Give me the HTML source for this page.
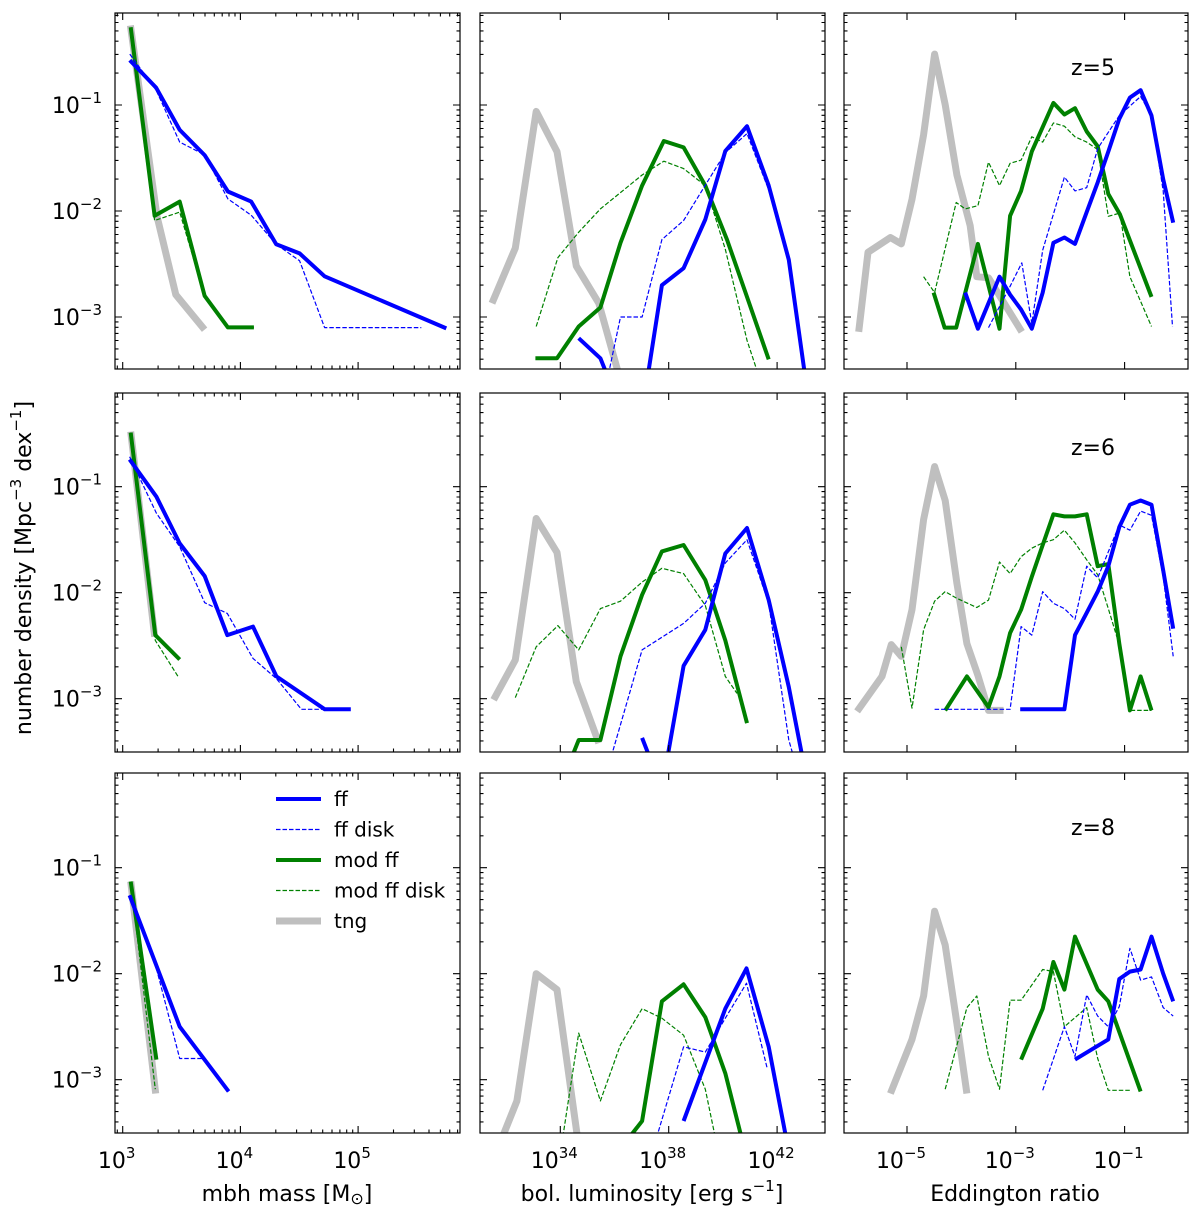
<!DOCTYPE html>
<html><head><meta charset="utf-8">
<style>
body{margin:0;background:#fff;}
svg{display:block;font-family:"DejaVu Sans","Liberation Sans",sans-serif;}
</style></head>
<body>
<svg id="fig" width="1200" height="1215" viewBox="0 0 1200 1215" xmlns="http://www.w3.org/2000/svg"></svg>
<script>
// ---- data: [log10(x), log10(number density)] ----
// z=5 mass
const z5_mass_ff = [[3.06,-0.578],[3.285,-0.838],[3.484,-1.235],[3.696,-1.473],[3.894,-1.816],[4.092,-1.911],[4.304,-2.314],[4.503,-2.4],[4.715,-2.616],[5.749,-3.108]];
const z5_mass_ffdisk = [[3.06,-0.52],[3.285,-0.86],[3.484,-1.35],[3.696,-1.47],[3.894,-1.886],[4.092,-2.04],[4.304,-2.314],[4.503,-2.47],[4.715,-3.10],[5.537,-3.10]];
const z5_mass_mod = [[3.068,-0.267],[3.271,-2.045],[3.484,-1.911],[3.696,-2.8],[3.894,-3.098],[4.115,-3.098]];
const z5_mass_moddisk = [[3.068,-0.28],[3.271,-2.09],[3.484,-2.01],[3.696,-2.8],[3.894,-3.098],[4.115,-3.098]];
const z5_mass_tng = [[3.065,-0.25],[3.291,-2.05],[3.451,-2.79],[3.696,-3.12]];
// z=5 luminosity
const z5_lum_ff = [[34.68,-3.20],[35.48,-3.39],[36.28,-3.9],[37.02,-3.9],[37.75,-2.70],[38.55,-2.54],[39.35,-2.08],[40.09,-1.435],[40.89,-1.20],[41.69,-1.76],[42.43,-2.46],[43.22,-3.9]];
const z5_lum_ffdisk = [[35.48,-3.9],[36.22,-3.0],[37.02,-3.0],[37.75,-2.27],[38.55,-2.09],[40.09,-1.45],[40.89,-1.27],[41.69,-1.80],[42.43,-2.49],[43.2,-3.9]];
const z5_lum_mod = [[33.08,-3.39],[33.88,-3.39],[34.68,-3.09],[35.48,-2.91],[36.22,-2.30],[37.02,-1.76],[37.82,-1.34],[38.55,-1.40],[39.35,-1.76],[40.15,-2.27],[40.89,-2.81],[41.69,-3.40]];
const z5_lum_moddisk = [[33.11,-3.09],[33.91,-2.44],[34.68,-2.2],[35.48,-1.98],[37.02,-1.66],[37.82,-1.53],[38.55,-1.60],[39.35,-1.76],[40.09,-2.36],[40.89,-3.22],[41.38,-3.6]];
const z5_lum_tng = [[31.48,-2.87],[32.34,-2.35],[33.11,-1.06],[33.88,-1.44],[34.59,-2.52],[35.42,-2.87],[36.22,-3.6]];
// z=5 eddington
const z5_edd_ff = [[-3.93,-2.77],[-3.697,-3.11],[-3.502,-2.87],[-3.300,-2.62],[-3.104,-2.79],[-2.902,-2.93],[-2.706,-3.11],[-2.505,-2.77],[-2.309,-2.30],[-2.107,-2.25],[-1.911,-2.31],[-1.697,-2.01],[-1.495,-1.73],[-1.300,-1.44],[-1.098,-1.13],[-0.902,-0.93],[-0.706,-0.86],[-0.505,-1.10],[-0.291,-1.70],[-0.107,-2.11]];
const z5_edd_ffdisk = [[-3.502,-3.10],[-3.104,-2.71],[-2.890,-2.49],[-2.706,-3.06],[-2.505,-2.37],[-2.107,-1.68],[-1.911,-1.81],[-1.697,-1.78],[-1.495,-1.41],[-1.098,-1.10],[-0.706,-0.92],[-0.505,-1.10],[-0.291,-1.81],[-0.119,-3.09]];
const z5_edd_mod = [[-4.511,-2.77],[-4.309,-3.10],[-4.095,-3.10],[-3.697,-2.31],[-3.300,-3.11],[-3.104,-2.045],[-2.902,-1.81],[-2.706,-1.44],[-2.309,-0.98],[-2.107,-1.09],[-1.911,-1.03],[-1.697,-1.25],[-1.495,-1.39],[-1.300,-1.84],[-1.086,-2.03],[-0.505,-2.81]];
const z5_edd_moddisk = [[-4.694,-2.62],[-4.492,-2.77],[-4.095,-1.92],[-3.930,-1.98],[-3.697,-1.95],[-3.502,-1.54],[-3.300,-1.76],[-3.104,-1.55],[-2.902,-1.52],[-2.706,-1.30],[-2.505,-1.35],[-2.309,-1.17],[-2.107,-1.20],[-1.911,-1.30],[-1.697,-1.35],[-1.495,-1.42],[-1.300,-2.05],[-1.086,-2.02],[-0.902,-2.62],[-0.505,-3.09]];
const z5_edd_tng = [[-5.887,-3.14],[-5.716,-2.39],[-5.306,-2.25],[-5.104,-2.31],[-4.908,-1.89],[-4.694,-1.28],[-4.492,-0.52],[-4.297,-0.997],[-4.083,-1.66],[-3.838,-2.14],[-3.716,-2.62],[-3.502,-2.63],[-2.890,-3.14]];
// z=6 mass
const z6_mass_ff = [[3.059,-0.742],[3.286,-1.094],[3.484,-1.535],[3.697,-1.843],[3.889,-2.40],[4.107,-2.32],[4.306,-2.79],[4.717,-3.10],[4.938,-3.10]];
const z6_mass_ffdisk = [[3.059,-0.717],[3.286,-1.25],[3.484,-1.566],[3.697,-2.094],[3.889,-2.195],[4.107,-2.62],[4.306,-2.81],[4.518,-3.10],[4.717,-3.10]];
const z6_mass_mod = [[3.068,-0.49],[3.277,-2.40],[3.484,-2.63]];
const z6_mass_moddisk = [[3.068,-0.49],[3.277,-2.45],[3.470,-2.79]];
const z6_mass_tng = [[3.068,-0.48],[3.272,-2.415]];
// z=6 luminosity
const z6_lum_ff = [[37.02,-3.37],[37.75,-3.85],[38.55,-2.69],[39.35,-2.35],[40.09,-1.63],[40.89,-1.39],[41.69,-2.07],[42.43,-2.89],[43.2,-3.9]];
const z6_lum_ffdisk = [[35.48,-3.9],[37.02,-2.54],[38.55,-2.29],[39.35,-2.10],[40.09,-1.72],[40.89,-1.50],[41.69,-2.10],[42.43,-3.39],[43.0,-3.9]];
const z6_lum_mod = [[33.88,-3.9],[34.68,-3.39],[35.48,-3.39],[36.22,-2.60],[37.02,-2.02],[37.75,-1.61],[38.55,-1.55],[39.35,-1.88],[40.09,-2.45],[40.89,-3.23]];
const z6_lum_moddisk = [[32.34,-2.99],[33.11,-2.51],[33.91,-2.31],[34.68,-2.54],[35.48,-2.15],[36.22,-2.08],[37.02,-1.90],[37.75,-1.77],[38.55,-1.82],[39.35,-2.12],[40.09,-2.79],[40.52,-2.95]];
const z6_lum_tng = [[31.54,-3.01],[32.34,-2.635],[33.11,-1.30],[33.88,-1.62],[34.59,-2.84],[35.42,-3.42]];
// z=6 eddington
const z6_edd_ff = [[-2.920,-3.10],[-2.107,-3.10],[-1.911,-2.40],[-1.697,-2.19],[-1.495,-1.99],[-1.300,-1.75],[-1.098,-1.38],[-0.902,-1.17],[-0.706,-1.13],[-0.505,-1.17],[-0.291,-1.79],[-0.107,-2.34]];
const z6_edd_ffdisk = [[-4.492,-3.10],[-3.104,-3.10],[-2.902,-2.32],[-2.706,-2.40],[-2.505,-1.99],[-2.309,-2.10],[-2.107,-2.15],[-1.911,-2.25],[-1.697,-1.75],[-1.495,-1.86],[-1.098,-1.36],[-0.902,-1.41],[-0.706,-1.23],[-0.505,-1.27],[-0.291,-1.85],[-0.107,-2.60]];
const z6_edd_mod = [[-4.297,-3.11],[-3.899,-2.79],[-3.502,-3.08],[-3.300,-2.79],[-3.104,-2.38],[-2.902,-2.16],[-2.706,-1.85],[-2.505,-1.55],[-2.309,-1.26],[-2.107,-1.28],[-1.911,-1.28],[-1.697,-1.26],[-1.495,-1.75],[-1.300,-1.73],[-1.098,-2.48],[-0.902,-3.11],[-0.706,-2.79],[-0.505,-3.11]];
const z6_edd_moddisk = [[-5.104,-2.51],[-4.908,-3.09],[-4.694,-2.35],[-4.492,-2.08],[-4.297,-1.99],[-4.095,-2.05],[-3.716,-2.14],[-3.502,-2.07],[-3.300,-1.71],[-3.104,-1.82],[-2.902,-1.66],[-2.706,-1.58],[-2.505,-1.53],[-2.309,-1.50],[-2.107,-1.41],[-1.911,-1.53],[-1.697,-1.69],[-1.495,-1.83],[-1.300,-2.15],[-1.086,-2.51],[-0.902,-3.11],[-0.505,-3.11]];
const z6_edd_tng = [[-5.917,-3.12],[-5.459,-2.79],[-5.288,-2.49],[-5.104,-2.60],[-4.908,-2.16],[-4.694,-1.31],[-4.492,-0.81],[-4.297,-1.13],[-4.083,-1.91],[-3.899,-2.48],[-3.697,-2.78],[-3.502,-3.11],[-3.226,-3.11]];
// z=8 mass
const z8_mass_ff = [[3.059,-1.26],[3.484,-2.50],[3.900,-3.11]];
const z8_mass_ffdisk = [[3.059,-1.26],[3.286,-1.95],[3.484,-2.80],[3.697,-2.80],[3.900,-3.11]];
const z8_mass_mod = [[3.068,-1.13],[3.286,-2.81]];
const z8_mass_moddisk = [[3.068,-1.13],[3.277,-3.09]];
const z8_mass_tng = [[3.068,-1.13],[3.28,-3.13]];
// z=8 luminosity
const z8_lum_ff = [[38.55,-3.39],[40.09,-2.33],[40.87,-1.95],[41.69,-2.69],[42.43,-3.68]];
const z8_lum_ffdisk = [[37.14,-3.9],[38.55,-2.69],[39.35,-2.74],[40.09,-2.42],[40.87,-2.09],[41.63,-2.89]];
const z8_lum_mod = [[36.22,-3.65],[37.02,-3.39],[37.75,-2.26],[38.55,-2.10],[39.35,-2.41],[40.09,-2.94],[40.89,-3.75]];
const z8_lum_moddisk = [[33.88,-3.9],[34.68,-2.56],[35.48,-3.20],[36.22,-2.67],[37.02,-2.33],[37.75,-2.42],[38.55,-2.58],[39.35,-3.09],[40.09,-4.0]];
const z8_lum_tng = [[31.54,-3.75],[32.40,-3.20],[33.11,-2.0],[33.88,-2.15],[34.62,-3.52],[34.7,-3.7]];
// z=8 eddington
const z8_edd_ff = [[-1.911,-2.81],[-1.300,-2.62],[-1.098,-2.05],[-0.902,-1.98],[-0.706,-1.96],[-0.505,-1.65],[-0.291,-2.00],[-0.107,-2.26]];
const z8_edd_ffdisk = [[-2.505,-3.10],[-2.107,-2.50],[-1.911,-2.78],[-1.697,-2.20],[-1.495,-2.40],[-1.300,-2.50],[-1.098,-2.31],[-0.902,-1.76],[-0.706,-2.06],[-0.505,-2.03],[-0.291,-2.32],[-0.107,-2.40]];
const z8_edd_mod = [[-2.902,-2.81],[-2.505,-2.33],[-2.309,-1.89],[-2.107,-2.15],[-1.911,-1.65],[-1.495,-2.15],[-1.300,-2.26],[-0.706,-3.11]];
const z8_edd_moddisk = [[-4.297,-3.09],[-3.899,-2.32],[-3.716,-2.21],[-3.502,-2.78],[-3.300,-3.09],[-3.104,-2.25],[-2.902,-2.25],[-2.505,-1.96],[-2.309,-1.98],[-2.107,-2.50],[-1.697,-2.32],[-1.495,-2.80],[-1.300,-3.10],[-0.902,-3.10]];
const z8_edd_tng = [[-5.306,-3.13],[-4.908,-2.62],[-4.694,-2.21],[-4.492,-1.41],[-4.297,-1.73],[-4.083,-2.47],[-3.899,-3.13]];

const redshiftLabels = ["z=5","z=6","z=8"];
const massTicks = [3,4,5];
const lumTicks = [34,38,42];
const eddTicks = [-5,-3,-1];
const yTicks = [-3,-2,-1];
const legendLabels = ["ff","ff disk","mod ff","mod ff disk","tng"];

// ---- layout ----
const NS="http://www.w3.org/2000/svg";
const svg=document.getElementById('fig');
const cols=[{l:115,r:460,x0:122.7,ref:3,ppd:117.7,minor:true,ticks:massTicks},
            {l:480,r:825,x0:560.3,ref:34,ppd:27.1,minor:false,ticks:lumTicks},
            {l:844,r:1188,x0:907,ref:-5,ppd:54.4,minor:false,ticks:eddTicks}];
const rows=[{t:13,b:369,y1:105},{t:393,b:752,y1:486.7},{t:773,b:1133,y1:867.7}];
const YPPD=106;
const panelData=[
 [[z5_mass_tng,z5_mass_mod,z5_mass_moddisk,z5_mass_ff,z5_mass_ffdisk],[z5_lum_tng,z5_lum_mod,z5_lum_moddisk,z5_lum_ff,z5_lum_ffdisk],[z5_edd_tng,z5_edd_mod,z5_edd_moddisk,z5_edd_ff,z5_edd_ffdisk]],
 [[z6_mass_tng,z6_mass_mod,z6_mass_moddisk,z6_mass_ff,z6_mass_ffdisk],[z6_lum_tng,z6_lum_mod,z6_lum_moddisk,z6_lum_ff,z6_lum_ffdisk],[z6_edd_tng,z6_edd_mod,z6_edd_moddisk,z6_edd_ff,z6_edd_ffdisk]],
 [[z8_mass_tng,z8_mass_mod,z8_mass_moddisk,z8_mass_ff,z8_mass_ffdisk],[z8_lum_tng,z8_lum_mod,z8_lum_moddisk,z8_lum_ff,z8_lum_ffdisk],[z8_edd_tng,z8_edd_mod,z8_edd_moddisk,z8_edd_ff,z8_edd_ffdisk]]];
const styles=[
 {name:'tng',c:'#bfbfbf',w:7,d:''},
 {name:'mod-ff',c:'#008000',w:4,d:''},
 {name:'mod-ff-disk',c:'#008000',w:1.2,d:'4.5,2'},
 {name:'ff',c:'#0000ff',w:4,d:''},
 {name:'ff-disk',c:'#0000ff',w:1.2,d:'4.5,2'}];
const colNames=['mass','luminosity','eddington'];

function el(tag,attrs,parent){const e=document.createElementNS(NS,tag);for(const k in attrs)e.setAttribute(k,attrs[k]);(parent||svg).appendChild(e);return e;}
function xs(c,L){return c.x0+(L-c.ref)*c.ppd;}
function ys(r,L){return r.y1-(L+1)*YPPD;}

const defs=el('defs',{});
rows.forEach((r,ri)=>cols.forEach((c,ci)=>{
  const cp=el('clipPath',{id:'cp'+ri+ci},defs);
  el('rect',{x:c.l,y:r.t,width:c.r-c.l,height:r.b-r.t},cp);
}));

rows.forEach((r,ri)=>{
  cols.forEach((c,ci)=>{
    const g=el('g',{});
    
    
    const lg=el('g',{'clip-path':'url(#cp'+ri+ci+')'},g);
    panelData[ri][ci].forEach((series,si)=>{
      const s=styles[si];
      const pts=series.map(p=>xs(c,p[0]).toFixed(1)+','+ys(r,p[1]).toFixed(1)).join(' ');
      const pl=el('polyline',{points:pts,fill:'none',stroke:s.c,'stroke-width':s.w,'stroke-linejoin':'round','stroke-linecap':'butt'},lg);
      if(s.d)pl.setAttribute('stroke-dasharray',s.d);
      
      
    });
    const fr=el('rect',{x:c.l,y:r.t,width:c.r-c.l,height:r.b-r.t,fill:'none',stroke:'#000','stroke-width':1.2},g);
    
    
    let yt='';
    for(let d=-4;d<=0;d++){
      for(let m=1;m<=9;m++){
        const L=d+Math.log10(m);const y=ys(r,L);
        if(y<r.t-0.5||y>r.b+0.5)continue;
        const len=m===1?7:3.5;
        yt+=`M${c.l},${y.toFixed(1)}h${len}M${c.r},${y.toFixed(1)}h${-len}`;
      }
    }
    for(let d=-8;d<=45;d++){
      const sub=c.minor?[1,2,3,4,5,6,7,8,9]:[1];
      sub.forEach(m=>{
        const L=d+Math.log10(m);
        if(!c.minor && !c.ticks.includes(d))return;
        const x=xs(c,L);
        if(x<c.l-0.5||x>c.r+0.5)return;
        const len=m===1?7:3.5;
        yt+=`M${x.toFixed(1)},${r.b}v${-len}M${x.toFixed(1)},${r.t}v${len}`;
      });
    }
    const tk=el('path',{d:yt,stroke:'#000','stroke-width':1.1,fill:'none'},g);
    
    
    if(ci===0){
      yTicks.forEach(t=>{
        const tx=el('text',{x:c.l-13,y:ys(r,t)+8,'text-anchor':'end','font-size':22},g);
        tx.innerHTML=`10<tspan dy="-10" font-size="15">${'\u2212'+(-t)}</tspan>`;
        
        
      });
    }
    if(ri===2){
      c.ticks.forEach(t=>{
        const lab=t<0?'\u2212'+(-t):String(t);
        const tx=el('text',{x:xs(c,t)-6,y:r.b+35,'text-anchor':'middle','font-size':22},g);
        tx.innerHTML=`10<tspan dy="-10" font-size="15">${lab}</tspan>`;
        
        
      });
    }
    if(ci===2){
      const zl=el('text',{x:1093,y:r.t+62,'text-anchor':'middle','font-size':22},g);
      zl.textContent=redshiftLabels[ri];
      
      
    }
  });
});

// legend
const legStyles=[styles[3],styles[4],styles[1],styles[2],styles[0]];
const lgG=el('g',{});


legendLabels.forEach((lab,i)=>{
  const y=799+i*30.5;
  const s=legStyles[i];
  const ln=el('line',{x1:276,x2:321,y1:y,y2:y,stroke:s.c,'stroke-width':s.w},lgG);
  if(s.d)ln.setAttribute('stroke-dasharray',s.d);
  
  
  const t=el('text',{x:334,y:y+7,'font-size':20},lgG);
  t.textContent=lab;
  
  
});

// axis titles
const titles=[[287,'mbh mass [M<tspan font-size="16" dy="3">\u2299</tspan><tspan dy="-3">]</tspan>','x-axis-title-mass'],
 [652,'bol. luminosity [erg s<tspan dy="-10" font-size="15">\u22121</tspan><tspan dy="10">]</tspan>','x-axis-title-luminosity'],
 [1015,'Eddington ratio','x-axis-title-eddington']];
titles.forEach(t=>{
  const tx=el('text',{x:t[0],y:1201,'text-anchor':'middle','font-size':22});
  tx.innerHTML=t[1];
  
  
});
const yl=el('text',{x:0,y:0,'text-anchor':'middle','font-size':22,transform:'translate(31,568) rotate(-90)'});
yl.innerHTML='number density [Mpc<tspan dy="-10" font-size="15">\u22123</tspan><tspan dy="10"> dex</tspan><tspan dy="-10" font-size="15">\u22121</tspan><tspan dy="10">]</tspan>';


</script>
</body></html>
